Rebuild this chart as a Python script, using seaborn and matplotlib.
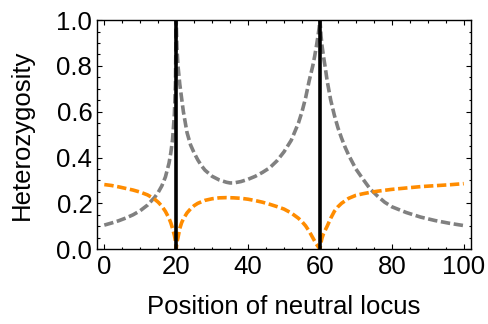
import matplotlib
matplotlib.use("Agg")
import matplotlib.pyplot as plt
import seaborn as sns
import pandas as pd
from matplotlib.ticker import MultipleLocator

# positions of the selected loci (black vertical lines)
selected_loci = [20, 60]

# grey curve
grey_x = [0, 2, 4, 6, 8, 10, 12, 14, 15, 16, 17, 18, 18.5, 19, 19.5, 19.8, 20,
          20.2, 20.5, 21, 21.5, 22, 23, 24, 25, 26, 27, 28, 30, 32, 34, 35, 36, 38, 40,
          42, 44, 46, 48, 50, 52, 54, 55, 56, 57, 58, 58.5, 59, 59.5, 59.8, 60,
          60.3, 60.6, 61, 61.5, 62, 63, 64, 65, 66, 67, 68, 70, 72, 74, 76, 78, 80,
          84, 88, 92, 96, 100]
grey_h = [0.105, 0.114, 0.124, 0.136, 0.150, 0.168, 0.192, 0.226, 0.248, 0.276, 0.315, 0.375, 0.42, 0.48, 0.59, 0.72, 1.0,
          0.88, 0.80, 0.72, 0.66, 0.60, 0.51, 0.455, 0.42, 0.39, 0.365, 0.345, 0.318, 0.302, 0.292, 0.289, 0.289, 0.295, 0.305,
          0.318, 0.335, 0.355, 0.385, 0.425, 0.475, 0.55, 0.60, 0.66, 0.735, 0.80, 0.84, 0.885, 0.935, 0.97, 1.0,
          0.93, 0.885, 0.84, 0.79, 0.735, 0.65, 0.585, 0.53, 0.485, 0.445, 0.41, 0.35, 0.305, 0.262, 0.232, 0.205, 0.185,
          0.160, 0.140, 0.125, 0.113, 0.103]

# orange curve
orange_x = [0, 2, 4, 6, 8, 10, 12, 13, 14, 15, 16, 17, 18, 18.5, 19, 19.5, 19.8, 20,
            20.2, 20.5, 21, 21.5, 22, 23, 24, 25, 26, 28, 30, 32, 34, 36, 38, 40,
            42, 44, 46, 48, 50, 52, 54, 55, 56, 57, 58, 58.5, 59, 59.5, 60,
            60.3, 60.6, 61, 62, 63, 64, 65, 66, 68, 70, 72, 74, 76, 78, 80,
            84, 88, 92, 96, 100]
orange_h = [0.282, 0.278, 0.272, 0.265, 0.258, 0.249, 0.237, 0.228, 0.218, 0.205, 0.188, 0.165, 0.135, 0.115, 0.09, 0.06, 0.035, 0.0,
            0.03, 0.05, 0.09, 0.115, 0.132, 0.158, 0.176, 0.19, 0.2, 0.213, 0.22, 0.224, 0.225, 0.224, 0.222, 0.218,
            0.212, 0.205, 0.196, 0.186, 0.175, 0.158, 0.135, 0.12, 0.102, 0.078, 0.05, 0.036, 0.022, 0.011, 0.0,
            0.03, 0.05, 0.068, 0.10, 0.135, 0.165, 0.185, 0.2, 0.222, 0.235, 0.242, 0.248, 0.253, 0.257, 0.261,
            0.267, 0.273, 0.277, 0.281, 0.286]

x_ticks = [0, 20, 40, 60, 80, 100]
y_ticks = [0.0, 0.2, 0.4, 0.6, 0.8, 1.0]

sns.set_style("ticks")
plt.rcParams['font.family'] = ['Liberation Sans', 'DejaVu Sans']
plt.rcParams['text.color'] = 'black'
plt.rcParams['axes.labelcolor'] = 'black'
plt.rcParams['xtick.color'] = 'black'
plt.rcParams['ytick.color'] = 'black'

grey_df = pd.DataFrame({"pos": grey_x, "het": grey_h})
orange_df = pd.DataFrame({"pos": orange_x, "het": orange_h})

fig = plt.figure(figsize=(4.88, 3.24), dpi=100)
ax = fig.add_axes([0.199, 0.231, 0.766, 0.707])

# selected loci
ax.vlines(selected_loci, 0, 1, color='black', linewidth=2.6, zorder=3)

dash = (0, (2.6, 1.0))
sns.lineplot(data=grey_df, x="pos", y="het", ax=ax, color='#808080', linewidth=2.6,
             estimator=None, sort=False, linestyle=dash, dash_capstyle='butt', zorder=2)
sns.lineplot(data=orange_df, x="pos", y="het", ax=ax, color='#ff8c00', linewidth=2.6,
             estimator=None, sort=False, linestyle=dash, dash_capstyle='butt', zorder=2)

ax.set_xlim(-2, 102)
ax.set_ylim(0, 1)
ax.set_xticks(x_ticks)
ax.set_yticks(y_ticks)
ax.set_xticklabels([str(t) for t in x_ticks])
ax.set_yticklabels([f"{t:.1f}" for t in y_ticks])
ax.xaxis.set_minor_locator(MultipleLocator(5))
ax.yaxis.set_minor_locator(MultipleLocator(0.05))

ax.tick_params(which='both', direction='in', top=True, right=True, width=0.8,
               color='black', labelcolor='black')
ax.tick_params(which='major', length=3.5, labelsize=18.5)
ax.tick_params(which='minor', length=1.8)
ax.tick_params(axis='x', pad=4)
ax.tick_params(axis='y', pad=3.5)

for s in ax.spines.values():
    s.set_linewidth(1.0)
    s.set_color('black')

ax.set_xlabel("Position of neutral locus", fontsize=18.5, color='black')
ax.set_ylabel("Heterozygosity", fontsize=18.5, color='black')
ax.xaxis.set_label_coords(0.5, -0.2)
ax.yaxis.set_label_coords(-0.17, 0.5)

fig.savefig("out.png", dpi=100)
